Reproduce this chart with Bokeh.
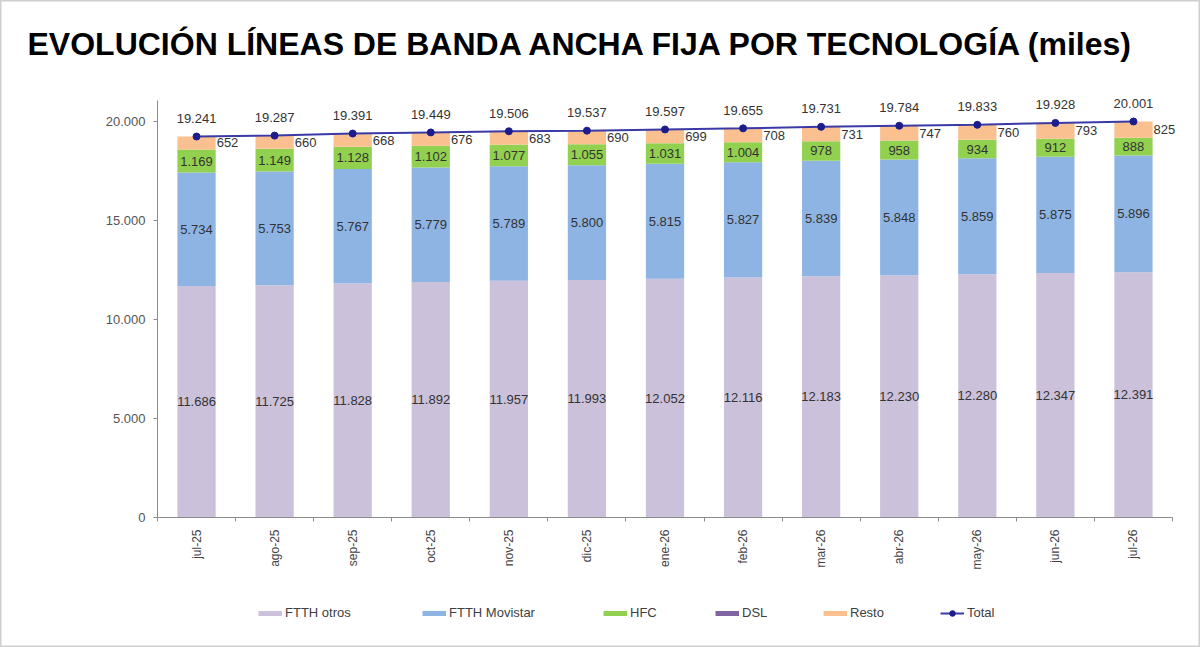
from bokeh.plotting import figure, ColumnDataSource
from bokeh.models import (FixedTicker, LabelSet, Label, Legend, LegendItem, Range1d)
from bokeh.core.properties import value
from bokeh.embed import file_html
from bokeh.resources import INLINE

### Données (milliers de lignes)

meses = ["jul-25", "ago-25", "sep-25", "oct-25", "nov-25", "dic-25", "ene-26",
         "feb-26", "mar-26", "abr-26", "may-26", "jun-26", "jul-26"]
ftth_otros = [11686, 11725, 11828, 11892, 11957, 11993, 12052, 12116, 12183, 12230, 12280, 12347, 12391]
ftth_movistar = [5734, 5753, 5767, 5779, 5789, 5800, 5815, 5827, 5839, 5848, 5859, 5875, 5896]
hfc = [1169, 1149, 1128, 1102, 1077, 1055, 1031, 1004, 978, 958, 934, 912, 888]
dsl = [0, 0, 0, 0, 0, 0, 0, 0, 0, 0, 0, 0, 0]
resto = [652, 660, 668, 676, 683, 690, 699, 708, 731, 747, 760, 793, 825]
total = [19241, 19287, 19391, 19449, 19506, 19537, 19597, 19655, 19731, 19784, 19833, 19928, 20001]
y_ticks = [0, 5000, 10000, 15000, 20000]

series = ["FTTH otros", "FTTH Movistar", "HFC", "DSL", "Resto"]
colores = ["#CCC1DA", "#8EB4E3", "#92D050", "#8064A2", "#FAC090"]
FONT = "Liberation Sans"

W, H = 1200, 647
# zone du graphique (pixels) : axe x de 157 à 1172, 0 à y=517, 20.000 à y=121
X0, X1, Y0, Y20 = 157, 1172, 517, 121
# position horizontale de chaque entrée de la légende (pixels)
leg_x = [258, 422, 603, 715, 823, 940]


def fmt(v):
    return f"{v:,}".replace(",", ".")


x = list(range(len(meses)))
data = {"x": x, "FTTH otros": ftth_otros, "FTTH Movistar": ftth_movistar,
        "HFC": hfc, "DSL": dsl, "Resto": resto, "total": total}

# milieux de segments pour les étiquettes
b0 = [0] * len(x)
b1 = [a + b for a, b in zip(b0, ftth_otros)]
b2 = [a + b for a, b in zip(b1, ftth_movistar)]
b3 = [a + b for a, b in zip(b2, hfc)]
b4 = [a + b for a, b in zip(b3, dsl)]
data["m_otros"] = [(a + b) / 2 for a, b in zip(b0, b1)]
data["m_mov"] = [(a + b) / 2 for a, b in zip(b1, b2)]
data["m_hfc"] = [(a + b) / 2 for a, b in zip(b2, b3)]
data["m_resto"] = [b + r / 2 for b, r in zip(b4, resto)]
data["t_otros"] = [fmt(v) for v in ftth_otros]
data["t_mov"] = [fmt(v) for v in ftth_movistar]
data["t_hfc"] = [fmt(v) for v in hfc]
data["t_resto"] = [fmt(v) for v in resto]
data["t_total"] = [fmt(v) for v in total]
data["x_right"] = [i + 0.245 for i in x]
source = ColumnDataSource(data)

# le cadre couvre toute la figure, les axes sont placés avec fixed_location
ux = (X1 - X0) / len(meses)
uy = (Y0 - Y20) / 20000
xr = Range1d(-0.5 - X0 / ux, -0.5 + (W - X0) / ux)
yr = Range1d(-(H - Y0) / uy, Y0 / uy)

p = figure(width=W, height=H, output_backend="svg", toolbar_location=None,
           x_range=xr, y_range=yr,
           min_border_left=0, min_border_right=0, min_border_top=0, min_border_bottom=0)
p.outline_line_color = "#d0d0d0"
p.outline_line_width = 2
p.xgrid.grid_line_color = None
p.ygrid.grid_line_color = None

p.vbar_stack(series, x="x", width=0.49, source=source, color=colores, line_color=None)

# ligne du total
lt = p.line("x", "total", source=source, line_color="#3A3AA6", line_width=2)
st = p.scatter("x", "total", source=source, size=7, color="#1C1C8C")

# étiquettes
common = dict(source=source, text_font=value(FONT), text_font_size="13px",
              text_color="#333333", text_baseline="middle")
p.add_layout(LabelSet(x="x", y="m_otros", text="t_otros", text_align="center", **common))
p.add_layout(LabelSet(x="x", y="m_mov", text="t_mov", text_align="center", **common))
p.add_layout(LabelSet(x="x", y="m_hfc", text="t_hfc", text_align="center", **common))
p.add_layout(LabelSet(x="x_right", y="m_resto", text="t_resto", text_align="left", x_offset=1, **common))
p.add_layout(LabelSet(x="x", y="total", text="t_total", text_align="center", y_offset=18, **common))

# axes
p.yaxis.fixed_location = -0.5
p.yaxis.bounds = (0, 21050)
p.yaxis.ticker = FixedTicker(ticks=y_ticks, minor_ticks=[])
p.yaxis.major_label_overrides = {t: fmt(t) for t in y_ticks}
p.yaxis.major_label_text_font = FONT
p.yaxis.major_label_text_font_size = "13px"
p.yaxis.major_label_text_color = "#555555"
p.yaxis.axis_line_color = "#8c8c8c"
p.yaxis.major_tick_line_color = "#8c8c8c"
p.yaxis.major_tick_in = 0
p.yaxis.major_tick_out = 4
p.yaxis.major_label_standoff = 8

p.xaxis.fixed_location = 0
p.xaxis.bounds = (-0.5, len(meses) - 0.5)
p.xaxis.ticker = FixedTicker(ticks=x, minor_ticks=[i - 0.5 for i in range(len(meses) + 1)])
p.xaxis.major_label_overrides = {i: m for i, m in enumerate(meses)}
p.xaxis.major_label_orientation = 1.5708
p.xaxis.major_label_text_font = FONT
p.xaxis.major_label_text_font_size = "12px"
p.xaxis.major_label_text_color = "#444444"
p.xaxis.axis_line_color = "#8c8c8c"
p.xaxis.major_tick_line_color = None
p.xaxis.minor_tick_line_color = "#8c8c8c"
p.xaxis.minor_tick_in = 0
p.xaxis.minor_tick_out = 4
p.xaxis.major_label_standoff = 6

# titre
p.add_layout(Label(x=27, y=H - 43, x_units="screen", y_units="screen",
                   text="EVOLUCIÓN LÍNEAS DE BANDA ANCHA FIJA POR TECNOLOGÍA (miles)",
                   text_font=FONT, text_font_style="bold", text_font_size="32px",
                   text_color="#000000", text_baseline="alphabetic", text_align="left"))

# légende : une entrée par légende pour placer chacune comme dans l'original
hors_vue = dict(x=[-50, -49], y=[-90000, -90000])
entrees = []
for nom, col in zip(series, colores):
    r = p.line(line_color=col, line_width=5, **hors_vue)
    entrees.append(LegendItem(label=nom, renderers=[r]))
entrees.append(LegendItem(label="Total", renderers=[lt, st]))
for item, lx in zip(entrees, leg_x):
    p.add_layout(Legend(items=[item], orientation="horizontal", location=(lx, H - 620),
                        glyph_width=24, glyph_height=14, label_standoff=3,
                        label_height=14, padding=0, margin=0, border_line_color=None,
                        background_fill_alpha=0, label_text_font=FONT,
                        label_text_font_size="13px", label_text_color="#404040"))

open("out.html", "w").write(file_html(p, INLINE))
